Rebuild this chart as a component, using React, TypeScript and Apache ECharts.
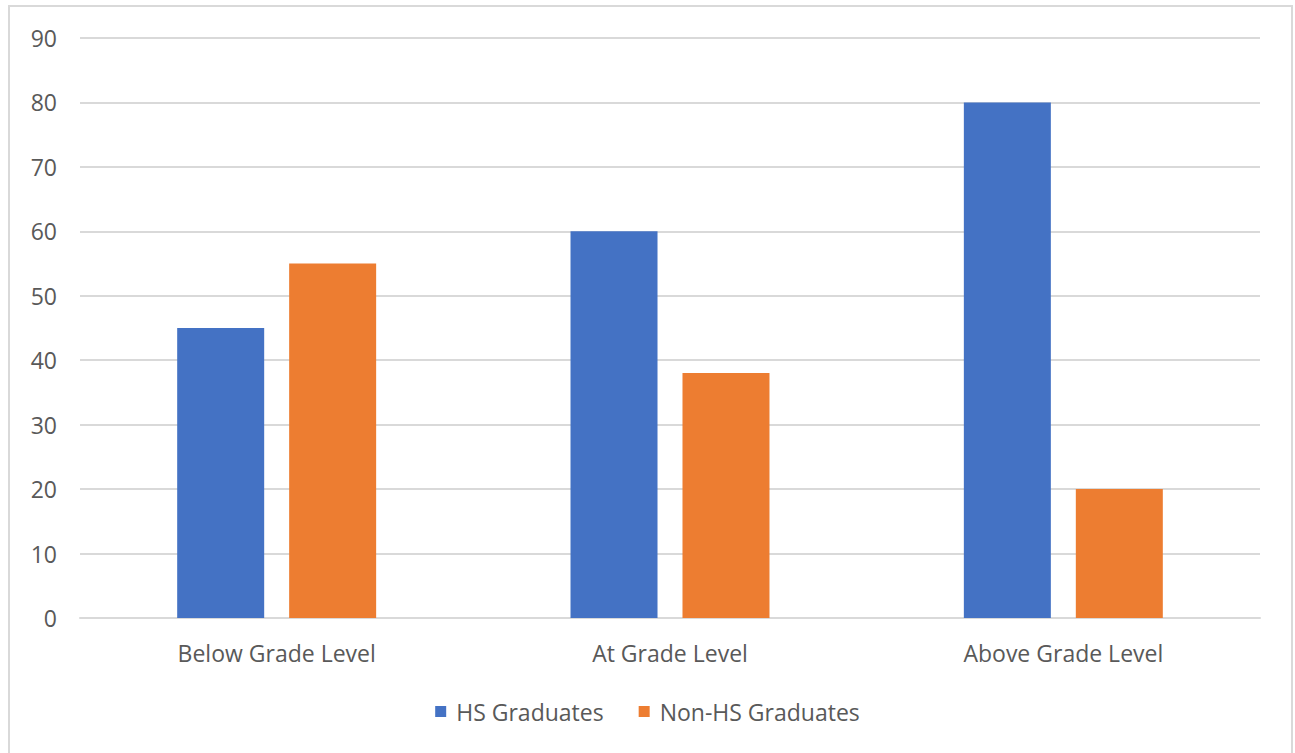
import React, { useEffect, useRef } from "react";
import * as echarts from "echarts";

const categories = ["Below Grade Level", "At Grade Level", "Above Grade Level"];
const hsGraduates = [45, 60, 80];
const nonHsGraduates = [55, 38, 20];
const seriesNames = ["HS Graduates", "Non-HS Graduates"];

const FONT = "'Open Sans', 'Noto Sans', sans-serif";
const TEXT = "#595959";
const GRID = "#d9d9d9";

export default function App() {
  const ref = useRef<HTMLDivElement>(null);

  useEffect(() => {
    if (!ref.current) return;
    const chart = echarts.init(ref.current, undefined, { renderer: "svg" });
    chart.setOption({
      animation: false,
      backgroundColor: "#ffffff",
      textStyle: { fontFamily: FONT },
      graphic: [
        {
          type: "rect",
          shape: { x: 9, y: 6, width: 1283, height: 780 },
          style: { fill: "none", stroke: GRID, lineWidth: 2 },
          silent: true,
        },
      ],
      grid: { left: 80, right: 35, top: 38, bottom: 135, containLabel: false },
      legend: {
        data: seriesNames,
        top: 695,
        left: "center",
        icon: "rect",
        itemWidth: 11,
        itemHeight: 11,
        itemGap: 35,
        textStyle: {
          color: TEXT,
          fontSize: 23,
          fontFamily: FONT,
          padding: [0, 0, 0, 5],
        },
      },
      xAxis: {
        type: "category",
        data: categories,
        axisLine: { lineStyle: { color: GRID, width: 2 } },
        axisTick: { show: false },
        axisLabel: { color: TEXT, fontSize: 23, margin: 23, fontFamily: FONT },
      },
      yAxis: {
        type: "value",
        min: 0,
        max: 90,
        interval: 10,
        axisLine: { show: false },
        axisTick: { show: false },
        splitLine: { lineStyle: { color: GRID, width: 2 } },
        axisLabel: { color: TEXT, fontSize: 23, margin: 23, fontFamily: FONT },
      },
      series: [
        {
          name: seriesNames[0],
          type: "bar",
          data: hsGraduates,
          barWidth: 87,
          barGap: "28.7%",
          itemStyle: { color: "#4472c4" },
        },
        {
          name: seriesNames[1],
          type: "bar",
          data: nonHsGraduates,
          barWidth: 87,
          itemStyle: { color: "#ed7d31" },
        },
      ],
    });
    return () => chart.dispose();
  }, []);

  return (
    <div
      ref={ref}
      style={{ position: "fixed", left: 0, top: 0, width: 1295, height: 753 }}
    />
  );
}
